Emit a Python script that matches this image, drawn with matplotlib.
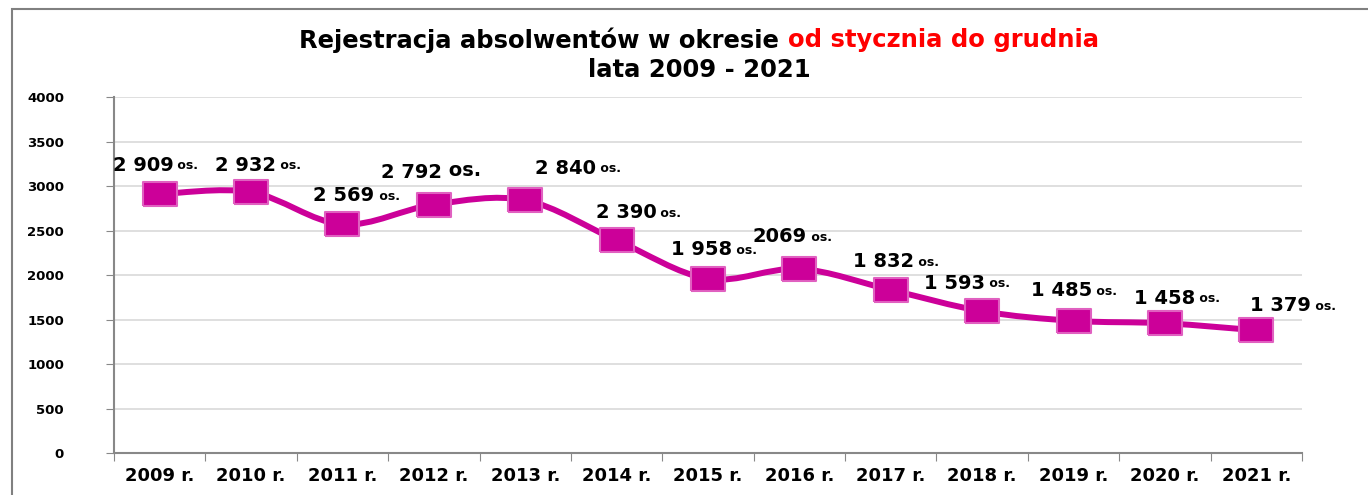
import numpy as np
import matplotlib.pyplot as plt
from matplotlib.path import Path
from matplotlib.patches import PathPatch, Rectangle

lata = ['2009 r.', '2010 r.', '2011 r.', '2012 r.', '2013 r.', '2014 r.', '2015 r.',
        '2016 r.', '2017 r.', '2018 r.', '2019 r.', '2020 r.', '2021 r.']
absolwenci = [2909, 2932, 2569, 2792, 2840, 2390, 1958, 2069, 1832, 1593, 1485, 1458, 1379]
etykiety = ['2 909', '2 932', '2 569', '2 792', '2 840', '2 390', '1 958',
            '2069', '1 832', '1 593', '1 485', '1 458', '1 379']
# przesuniecia etykiet (piksele) wzgledem punktu
przes = [(-47, 29), (-36, 27), (-29, 29), (-53, 32), (10, 32), (-21, 28), (-37, 29),
         (-47, 32), (-38, 28), (-58, 28), (-43, 30), (-31, 25), (-6, 25)]

kolor = '#CC0099'
plt.rcParams['font.family'] = 'DejaVu Sans'

fig = plt.figure(figsize=(13.68, 4.95), dpi=100)
ax = fig.add_axes([0.0833, 0.0848, 0.8685, 0.7192])

x = np.arange(len(absolwenci))
y = np.array(absolwenci, dtype=float)

# wygladzona linia (krzywe Beziera przez punkty danych)
pts = np.column_stack([x, y])
verts = [pts[0]]
codes = [Path.MOVETO]
n = len(pts)
for i in range(n - 1):
    p0 = pts[max(i - 1, 0)]
    p1 = pts[i]
    p2 = pts[i + 1]
    p3 = pts[min(i + 2, n - 1)]
    c1 = p1 + (p2 - p0) / 6
    c2 = p2 - (p3 - p1) / 6
    verts += [c1, c2, p2]
    codes += [Path.CURVE4] * 3
ax.add_patch(PathPatch(Path(verts, codes), fill=False, edgecolor=kolor, lw=4.3,
                       capstyle='round', joinstyle='round', zorder=3))

kw = [(-1, -0.7), (1, -0.7), (1, 0.7), (-1, 0.7), (-1, -0.7)]
ax.plot(x, y, linestyle='none', marker=kw, markersize=24, markerfacecolor=kolor,
        markeredgecolor='#E060C0', markeredgewidth=1.5, zorder=4)

for i, (v, lab) in enumerate(zip(absolwenci, etykiety)):
    dx, dy = przes[i]
    a = ax.annotate(lab, xy=(i, v), xytext=(dx, dy), textcoords='offset pixels',
                    ha='left', va='center', fontsize=14, fontweight='bold', zorder=5)
    os_size = 14 if i == 3 else 9
    ax.annotate(' os.', xy=(1, 0.12), xycoords=a, ha='left', va='bottom',
                fontsize=os_size, fontweight='bold', zorder=5)

ax.set_xlim(-0.5, len(lata) - 0.5)
ax.set_ylim(0, 4000)
ax.set_yticks(np.arange(0, 4001, 500))
ax.set_xticks(np.arange(-0.5, len(lata), 1))
ax.set_xticklabels([])
ax.set_xticks(x, minor=True)
ax.set_xticklabels(lata, minor=True, fontsize=13, fontweight='bold')
ax.tick_params(axis='x', which='major', direction='out', length=6, color='#888888')
ax.tick_params(axis='x', which='minor', length=0, pad=10)
ax.tick_params(axis='y', direction='out', length=6, color='#888888', pad=30,
               labelsize=9.5)
for t in ax.get_yticklabels():
    t.set_fontweight('bold')

ax.grid(axis='y', color='#D9D9D9', lw=1.2)
ax.set_axisbelow(True)
for s in ['top', 'right']:
    ax.spines[s].set_visible(False)
for s in ['left', 'bottom']:
    ax.spines[s].set_color('#888888')
    ax.spines[s].set_linewidth(1.5)

# ramka wykresu
fig.patches.append(Rectangle((12 / 1368, -0.1), 1.2, 1 - 9 / 495 + 0.1,
                             transform=fig.transFigure, fill=False,
                             edgecolor='#808080', lw=1.5))

# tytul dwukolorowy
tf = dict(fontsize=17.5, fontweight='bold', family='DejaVu Sans')
fig.canvas.draw()
r = fig.canvas.get_renderer()
t1 = fig.text(0, 1 - 40 / 495, 'Rejestracja absolwentów w okresie ', va='center', **tf)
t2 = fig.text(0, 1 - 40 / 495, 'od stycznia do grudnia', va='center', color='red', **tf)
w1 = t1.get_window_extent(r).width
w2 = t2.get_window_extent(r).width
x0 = (699 - (w1 + w2) / 2) / 1368
t1.set_x(x0)
t2.set_x(x0 + w1 / 1368)
fig.text(699 / 1368, 1 - 70 / 495, 'lata 2009 - 2021', ha='center', va='center', **tf)

fig.savefig('out.png', dpi=100)
